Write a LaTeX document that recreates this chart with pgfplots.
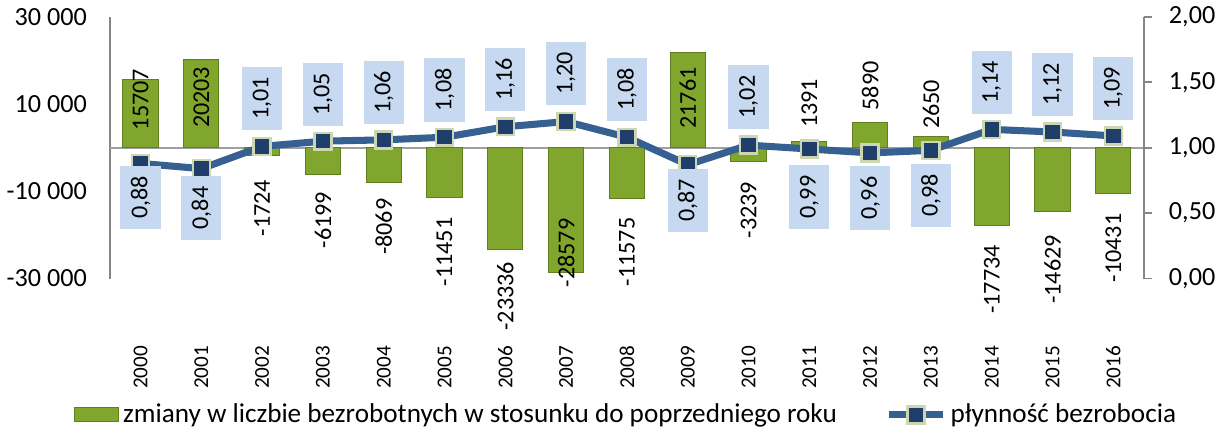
\documentclass[border=0pt]{standalone}
\usepackage{fontspec}
\setmainfont{Carlito}
\usepackage{pgfplots}
\pgfplotsset{compat=1.18}
\definecolor{barfill}{RGB}{128,166,46}
\definecolor{bardark}{RGB}{96,128,32}
\definecolor{linecol}{RGB}{55,96,146}
\definecolor{markfill}{RGB}{31,62,105}
\definecolor{markdraw}{RGB}{205,214,178}
\definecolor{lblue}{RGB}{198,217,241}
\definecolor{axisgray}{RGB}{134,134,134}
\pgfplotsset{
  base/.style={scale only axis, width=513.5pt, height=130pt,
    xmin=-0.5, xmax=16.5, clip=false},
  barleg/.style={legend image code/.code={\draw[#1] (0pt,-3.5pt) rectangle (22pt,3.5pt);}},
  lineleg/.style={legend image code/.code={
    \draw[#1, mark=none] (0pt,0pt) -- (27pt,0pt);
    \draw[#1, only marks] plot coordinates {(13.5pt,0pt)};}},
}
\begin{document}
\begin{tikzpicture}
% lewa os: zmiany liczby bezrobotnych
\begin{axis}[base,
  ymin=-30000, ymax=30000, scaled y ticks=false,
  axis y line*=left, axis x line*=bottom,
  x axis line style={draw=none},
  y axis line style={draw=axisgray, line width=0.8pt},
  ytick={-30000,-10000,10000,30000},
  yticklabels={-30 000,-10 000,10 000,30 000},
  ytick style={draw=none},
  yticklabel style={font=\fontsize{13}{15}\selectfont},
  yticklabel shift=8pt,
  xtick={0,...,16},
  xticklabels={2000,2001,2002,2003,2004,2005,2006,2007,2008,2009,2010,2011,2012,2013,2014,2015,2016},
  xtick style={draw=none},
  xticklabel style={rotate=90, anchor=east, font=\fontsize{10.5}{12}\selectfont},
  xticklabel shift=30pt,
  extra y ticks={0}, extra y tick labels={},
  extra y tick style={grid=major, major grid style={draw=gray!75, line width=1pt}},
  legend style={at={(0.5,-0.447)}, anchor=north, draw=none, fill=none, legend columns=2,
    font=\fontsize{13.5}{15}\selectfont, legend cell align=left,
    /tikz/every even column/.append style={column sep=22pt}},
]
\addplot[ybar, bar width=17.5pt, fill=barfill, draw=bardark, line width=0.5pt, barleg]
  coordinates {
  (0,15707) (1,20203) (2,-1724) (3,-6199) (4,-8069) (5,-11451)
  (6,-23336) (7,-28579) (8,-11575) (9,21761) (10,-3239) (11,1391)
  (12,5890) (13,2650) (14,-17734) (15,-14629) (16,-10431)
};
\addlegendentry{zmiany w liczbie bezrobotnych w stosunku do poprzedniego roku}
\addplot[draw=none, mark=none, forget plot, point meta=explicit symbolic,
  nodes near coords,
  nodes near coords style={anchor=center, rotate=90, text=black,
    font=\fontsize{12}{14}\selectfont}]
  table[meta=lab] {
x y lab
0 11077 15707
1 11538 20203
2 -13846 -1724
3 -16615 -6199
4 -18115 -8069
5 -23885 -11451
6 -34038 -23336
7 -24115 -28579
8 -23885 -11575
9 11423 21761
10 -14308 -3239
11 10154 1391
12 14192 5890
13 9923 2650
14 -30231 -17734
15 -27923 -14629
16 -22962 -10431
};
\addlegendimage{color=linecol, line width=3.5pt, mark=square*, mark size=4.2pt,
  mark options={fill=markfill, draw=markdraw, line width=1.2pt}, lineleg}
\addlegendentry{płynność bezrobocia}
\end{axis}
% prawa os: plynnosc bezrobocia
\begin{axis}[base,
  ymin=0, ymax=2,
  axis y line*=right, axis x line=none,
  ytick={0,0.5,1,1.5,2},
  yticklabels={{0,00},{0,50},{1,00},{1,50},{2,00}},
  tick align=outside, major tick length=4pt,
  ytick style={draw=axisgray, line width=0.8pt},
  y axis line style={draw=axisgray, line width=0.8pt},
  yticklabel style={font=\fontsize{13}{15}\selectfont},
  yticklabel shift=5pt,
]
\addplot[color=linecol, line width=3.5pt, mark=square*, mark size=4.2pt,
  mark options={fill=markfill, draw=markdraw, line width=1.2pt}]
  coordinates {
  (0,0.88) (1,0.84) (2,1.01) (3,1.05) (4,1.06) (5,1.08) (6,1.16)
  (7,1.20) (8,1.08) (9,0.87) (10,1.02) (11,0.99) (12,0.96) (13,0.98)
  (14,1.14) (15,1.12) (16,1.09)
};
\addplot[draw=none, mark=none, point meta=explicit symbolic,
  nodes near coords,
  nodes near coords style={anchor=center, rotate=90, fill=lblue, text=black,
    minimum width=31.5pt, minimum height=20pt, inner sep=0pt,
    font=\fontsize{12}{14}\selectfont}]
  table[meta=lab] {
x y lab
0 0.619 0,88
1 0.538 0,84
2 1.377 1,01
3 1.408 1,05
4 1.423 1,06
5 1.442 1,08
6 1.523 1,16
7 1.569 1,20
8 1.446 1,08
9 0.596 0,87
10 1.388 1,02
11 0.623 0,99
12 0.615 0,96
13 0.635 0,98
14 1.500 1,14
15 1.485 1,12
16 1.454 1,09
};
\end{axis}
\end{tikzpicture}
\end{document}
